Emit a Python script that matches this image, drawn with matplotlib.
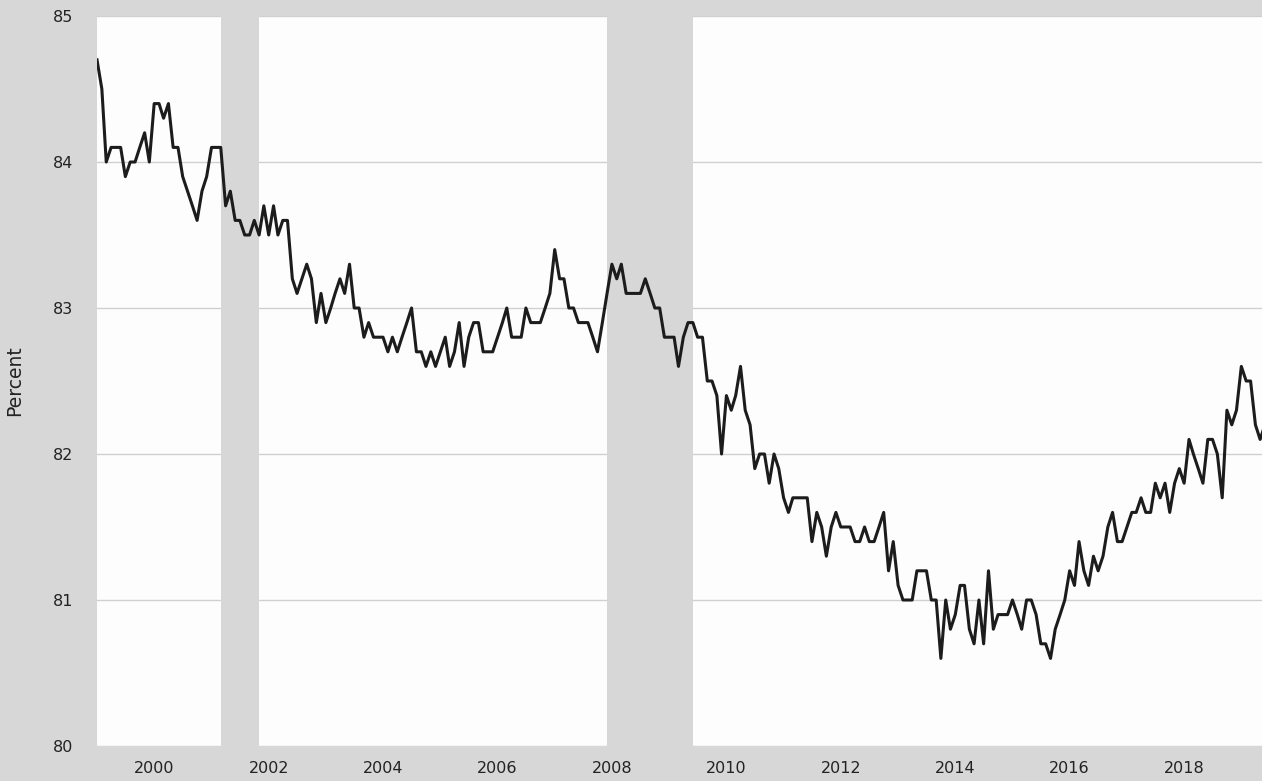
import matplotlib
matplotlib.use("Agg")
import matplotlib.pyplot as plt
import matplotlib.dates as mdates
from matplotlib.patches import Rectangle
import pandas as pd

# Monthly values, starting January 1999 (percent)
start_month = "1999-01-01"
values = [
    84.7, 84.5, 84.0, 84.1, 84.1, 84.1, 83.9, 84.0, 84.0, 84.1, 84.2, 84.0,  # 1999
    84.4, 84.4, 84.3, 84.4, 84.1, 84.1, 83.9, 83.8, 83.7, 83.6, 83.8, 83.9,  # 2000
    84.1, 84.1, 84.1, 83.7, 83.8, 83.6, 83.6, 83.5, 83.5, 83.6, 83.5, 83.7,  # 2001
    83.5, 83.7, 83.5, 83.6, 83.6, 83.2, 83.1, 83.2, 83.3, 83.2, 82.9, 83.1,  # 2002
    82.9, 83.0, 83.1, 83.2, 83.1, 83.3, 83.0, 83.0, 82.8, 82.9, 82.8, 82.8,  # 2003
    82.8, 82.7, 82.8, 82.7, 82.8, 82.9, 83.0, 82.7, 82.7, 82.6, 82.7, 82.6,  # 2004
    82.7, 82.8, 82.6, 82.7, 82.9, 82.6, 82.8, 82.9, 82.9, 82.7, 82.7, 82.7,  # 2005
    82.8, 82.9, 83.0, 82.8, 82.8, 82.8, 83.0, 82.9, 82.9, 82.9, 83.0, 83.1,  # 2006
    83.4, 83.2, 83.2, 83.0, 83.0, 82.9, 82.9, 82.9, 82.8, 82.7, 82.9, 83.1,  # 2007
    83.3, 83.2, 83.3, 83.1, 83.1, 83.1, 83.1, 83.2, 83.1, 83.0, 83.0, 82.8,  # 2008
    82.8, 82.8, 82.6, 82.8, 82.9, 82.9, 82.8, 82.8, 82.5, 82.5, 82.4, 82.0,  # 2009
    82.4, 82.3, 82.4, 82.6, 82.3, 82.2, 81.9, 82.0, 82.0, 81.8, 82.0, 81.9,  # 2010
    81.7, 81.6, 81.7, 81.7, 81.7, 81.7, 81.4, 81.6, 81.5, 81.3, 81.5, 81.6,  # 2011
    81.5, 81.5, 81.5, 81.4, 81.4, 81.5, 81.4, 81.4, 81.5, 81.6, 81.2, 81.4,  # 2012
    81.1, 81.0, 81.0, 81.0, 81.2, 81.2, 81.2, 81.0, 81.0, 80.6, 81.0, 80.8,  # 2013
    80.9, 81.1, 81.1, 80.8, 80.7, 81.0, 80.7, 81.2, 80.8, 80.9, 80.9, 80.9,  # 2014
    81.0, 80.9, 80.8, 81.0, 81.0, 80.9, 80.7, 80.7, 80.6, 80.8, 80.9, 81.0,  # 2015
    81.2, 81.1, 81.4, 81.2, 81.1, 81.3, 81.2, 81.3, 81.5, 81.6, 81.4, 81.4,  # 2016
    81.5, 81.6, 81.6, 81.7, 81.6, 81.6, 81.8, 81.7, 81.8, 81.6, 81.8, 81.9,  # 2017
    81.8, 82.1, 82.0, 81.9, 81.8, 82.1, 82.1, 82.0, 81.7, 82.3, 82.2, 82.3,  # 2018
    82.6, 82.5, 82.5, 82.2, 82.1, 82.2,                                      # 2019
]

recession_starts = ["2001-03-01", "2007-12-01"]
recession_ends = ["2001-11-01", "2009-06-01"]

tick_years = list(range(2000, 2019, 2))
tick_labels = [str(y) for y in tick_years]
y_ticks = [80, 81, 82, 83, 84, 85]
y_label = "Percent"

bg = "#d7d7d7"
dates = pd.date_range(start_month, periods=len(values), freq="MS")
xnum = mdates.date2num(dates.to_pydatetime())

fig = plt.figure(figsize=(12.62, 7.81), dpi=100, facecolor=bg)
W, H = 1262, 781
ax = fig.add_axes([97 / W, 35 / H, 1 - 97 / W, 730 / H])
ax.set_facecolor("#fdfdfd")

ax.yaxis.grid(True, color="#d0d0d0", lw=1.0)
ax.set_axisbelow(True)

for s, e in zip(recession_starts, recession_ends):
    x0 = mdates.date2num(pd.Timestamp(s).to_pydatetime())
    x1 = mdates.date2num(pd.Timestamp(e).to_pydatetime())
    rect = Rectangle((x0, 0), x1 - x0, 1, transform=ax.get_xaxis_transform(),
                     facecolor=bg, edgecolor="none", zorder=0.8)
    ax.add_patch(rect)

ax.plot(xnum, values, color="#1c1c1c", lw=2.2, zorder=10)

ax.set_xlim(mdates.date2num(pd.Timestamp("1999-01-01").to_pydatetime()),
            mdates.date2num(pd.Timestamp("2019-05-13").to_pydatetime()))
ax.set_ylim(80, 85)
ax.set_yticks(y_ticks)
ax.set_xticks([mdates.date2num(pd.Timestamp(f"{y}-01-01").to_pydatetime())
               for y in tick_years])
ax.set_xticklabels(tick_labels)

for sp in ax.spines.values():
    sp.set_visible(False)

ax.tick_params(axis="both", length=0, labelsize=11.5, labelcolor="#222222")
ax.tick_params(axis="x", pad=11)
ax.tick_params(axis="y", pad=17)

ax.set_ylabel(y_label, fontsize=13.5, color="#222222")
ax.yaxis.set_label_coords(-(97 - 24) / 1165, 0.5)

fig.savefig("out.png", dpi=100, facecolor=bg)
